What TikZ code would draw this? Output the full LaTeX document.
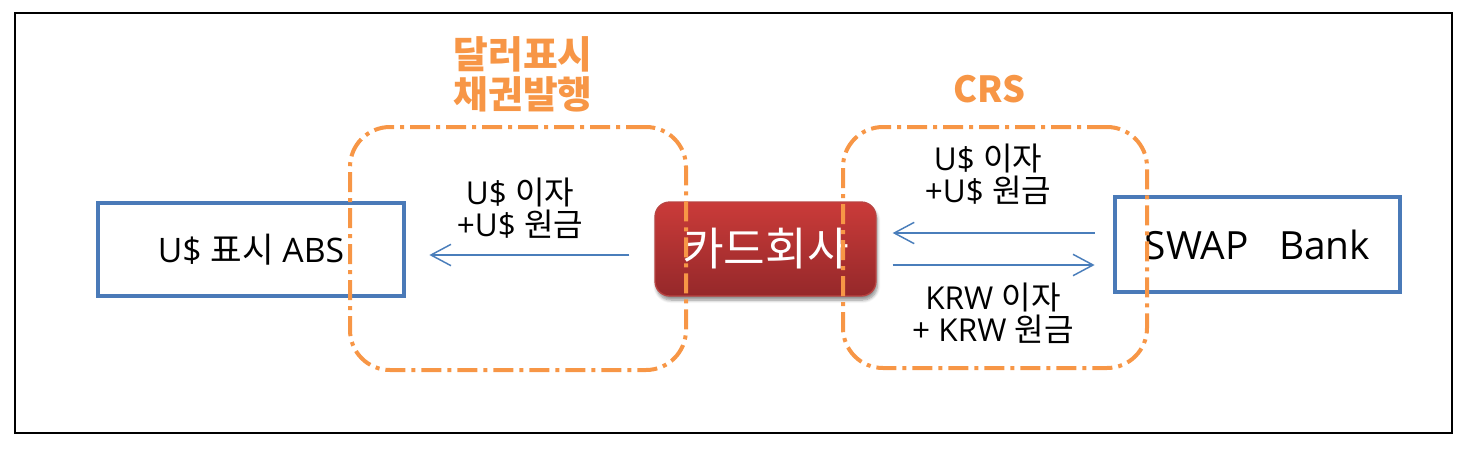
\documentclass[tikz,border=0pt]{standalone}
\usepackage{fontspec}
\setmainfont{Open Sans}[Scale=1.1]
\newfontfamily\kr{Noto Sans CJK KR}[Scale=1.12]
\usetikzlibrary{arrows.meta,calc,shadows.blur}
\definecolor{bbox}{HTML}{4A7AB8}
\definecolor{arrowblue}{HTML}{4A7EBB}
\definecolor{orng}{HTML}{F79646}
\definecolor{redtop}{HTML}{CA3B39}
\definecolor{redbot}{HTML}{95282A}
\definecolor{redborder}{HTML}{B84442}
\tikzset{
  bluebox/.style={draw=bbox, line width=3.6pt, inner sep=0pt},
  dashbox/.style={draw=orng, line width=3pt, rounded corners=30pt, inner sep=0pt,
    dash pattern=on 15pt off 4.5pt on 3pt off 4.5pt},
  cardbox/.style={draw=redborder, line width=1pt, rounded corners=11pt, inner sep=0pt,
    top color=redtop, bottom color=redbot, text=white,
    blur shadow={shadow xshift=1pt, shadow yshift=-3pt, shadow blur steps=6, shadow opacity=45},
    font=\fontsize{30.3}{36}\selectfont\kr},
  arr/.style={draw=arrowblue, line width=1.1pt, -{Straight Barb[length=15pt,width=16pt,line width=1.1pt]}},
  lbl/.style={align=center, font=\fontsize{21.5}{24}\selectfont},
  ttl/.style={align=center, text=orng, font=\fontsize{25.3}{30}\selectfont\kr\bfseries},
}
\begin{document}
\begin{tikzpicture}[x=0.75pt,y=-0.75pt]
\useasboundingbox (0,0) rectangle (1466,450);
\node[draw=black, line width=1.2pt, minimum width=1077.75pt, minimum height=315pt, inner sep=0pt] (frame) at (733.5,223) {};
\node[bluebox, minimum width=229.5pt, minimum height=69.75pt, font=\fontsize{23}{28}\selectfont] (abs) at (251,249.5) {U\$ {\kr 표시} ABS};
\node[bluebox, minimum width=213.75pt, minimum height=71.25pt, font=\fontsize{26.5}{30}\selectfont] (swap) at (1257.5,244.5) {SWAP\ \ \ Bank};
\node[cardbox, minimum width=165.75pt, minimum height=70.5pt] (card) at (765.5,249) {카드회사};
\draw[arr, shorten <=18.75pt, shorten >=17.25pt] ($(card.west)+(0,6)$) -- ($(abs.east)+(0,5.5)$);
\draw[arr, shorten <=13.5pt, shorten >=12pt] ($(swap.west)+(0,-11.5)$) -- ($(card.east)+(0,-16)$);
\draw[arr, shorten <=12pt, shorten >=13.5pt] ($(card.east)+(0,16)$) -- ($(swap.west)+(0,20.5)$);
\node[lbl] (l1) at (520,208) {U\$ {\kr 이자}\\+U\$ {\kr 원금}};
\node[lbl] (l2) at (988,174) {U\$ {\kr 이자}\\+U\$ {\kr 원금}};
\node[lbl] (l3) at (993,313) {KRW {\kr 이자}\\+ KRW {\kr 원금}};
\node[dashbox, minimum width=252pt, minimum height=182.25pt] (dl) at (518,248.5) {};
\node[dashbox, minimum width=228pt, minimum height=180.75pt] (dr) at (995,247.5) {};
\node[ttl] (t1) at (523,74) {달러표시\\채권발행};
\node[ttl, font=\fontsize{24.1}{30}\selectfont\kr\bfseries] (t2) at (989,89) {CRS};
\end{tikzpicture}
\end{document}
